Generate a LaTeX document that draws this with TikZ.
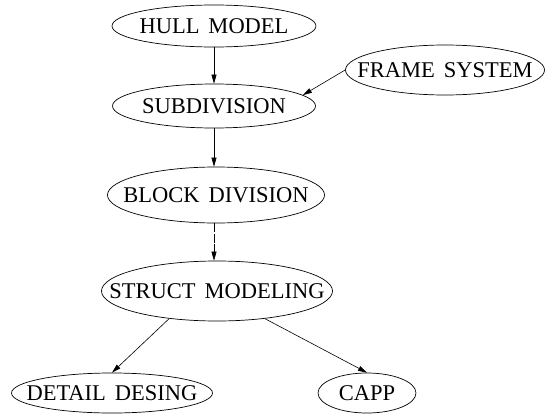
\documentclass[tikz,border=0pt]{standalone}
\usepackage{fontspec}
\setmainfont{Liberation Serif}
\usetikzlibrary{shapes.geometric,arrows.meta}
\newcommand\boxfont{\fontsize{22.5}{26}\selectfont\spaceskip=9pt\relax}
\begin{document}
\begin{tikzpicture}[x=1pt,y=-1pt,
  box/.style={draw,ellipse,inner xsep=-80pt,inner ysep=-20pt,line width=0.7pt,font=\boxfont},
  edge/.style={line width=0.6pt,-{Triangle[length=9pt,width=5pt]}}]
\useasboundingbox (0,0) rectangle (549,415);
\node[box,minimum width=204pt,minimum height=42pt] (hull) at (214,26) {HULL MODEL};
\node[box,minimum width=203pt,minimum height=44pt] (sub) at (214,106) {SUBDIVISION};
\node[box,minimum width=199pt,minimum height=50pt] (frame) at (445,70) {FRAME SYSTEM};
\node[box,minimum width=217pt,minimum height=56pt] (block) at (216,195) {BLOCK DIVISION};
\node[box,minimum width=231pt,minimum height=60pt] (struct) at (217,291) {STRUCT MODELING};
\node[box,minimum width=201pt,minimum height=40pt] (detail) at (112,393) {DETAIL DESING};
\node[box,minimum width=98pt,minimum height=40pt] (capp) at (367,393) {CAPP};
\draw[edge] (hull.south) -- (sub.north);
\draw[edge] (frame.west) -- (sub.7);
\draw[edge] (sub.south) -- (sub.south |- block.north);
\draw[edge,dash pattern=on 9pt off 1.5pt] (block.south -| sub.south) -- (sub.south |- struct.north);
\draw[edge] (struct.-150) -- (detail.north);
\draw[edge] (struct.-30) -- (capp.north);
\end{tikzpicture}
\end{document}
